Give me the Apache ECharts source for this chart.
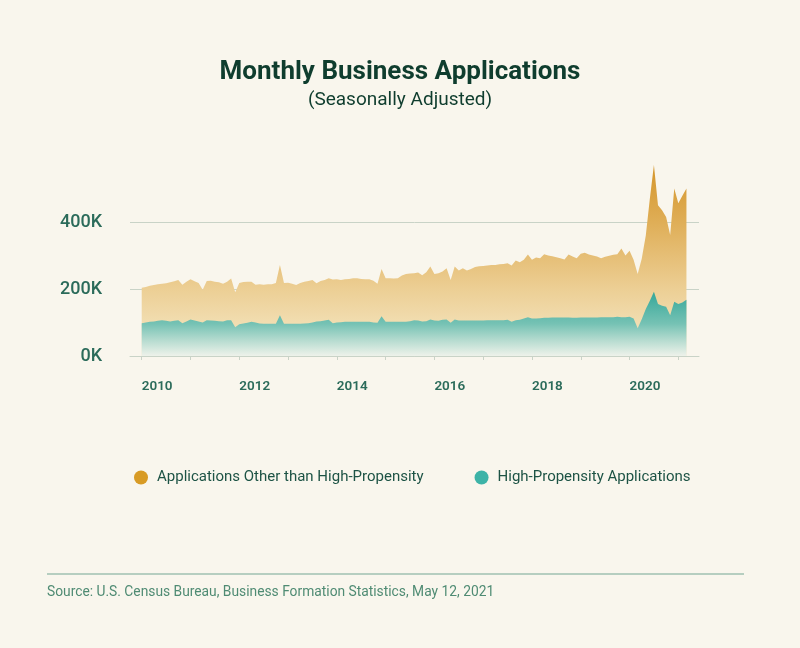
<!DOCTYPE html>
<html>
<head>
<meta charset="utf-8">
<script src="https://cdn.jsdelivr.net/npm/echarts@6/dist/echarts.min.js"></script>
<style>
  html, body { margin: 0; padding: 0; background: #f9f6ed; }
  #chart { width: 800px; height: 648px; }
</style>
</head>
<body>
<div id="chart"></div>
<script>
// Monthly series, January 2010 through March 2021 (thousands of applications)
const startYear = 2010;
const totalApplications = [
  204, 206, 210, 212, 214, 216, 217, 220, 223, 227, 213, 222,
  229, 223, 218, 198, 224, 225, 222, 220, 216, 222, 231, 190,
  218, 221, 222, 222, 213, 214, 213, 214, 214, 218, 272, 218,
  219, 216, 212, 218, 222, 224, 227, 217, 224, 227, 232, 228,
  229, 227, 229, 230, 232, 232, 230, 229, 229, 225, 216, 260,
  232, 232, 231, 232, 240, 245, 246, 247, 249, 241, 250, 267,
  245, 247, 252, 262, 227, 267, 255, 262, 255, 260, 266, 268,
  269, 270, 272, 272, 274, 275, 277, 270, 285, 280, 287, 303,
  287, 294, 292, 304, 300, 298, 295, 292, 288, 303, 297, 292,
  305, 308, 303, 300, 297, 292, 296, 299, 302, 304, 321, 300,
  314, 287, 245, 290, 360, 470, 570, 450, 435, 415, 361, 500,
  456, 478, 500
];
const highPropensity = [
  98, 100, 102, 103, 105, 107, 105, 103, 105, 107, 98, 103,
  109, 106, 103, 100, 107, 106, 105, 104, 103, 107, 107, 86,
  95, 97, 99, 102, 100, 97, 96, 96, 96, 96, 122, 96,
  96, 96, 96, 96, 97, 98, 100, 103, 104, 106, 108, 98,
  100, 101, 102, 102, 102, 102, 102, 102, 102, 100, 99, 119,
  102, 102, 102, 102, 102, 102, 104, 107, 106, 103, 104, 109,
  106, 105, 108, 109, 99, 109, 106, 106, 106, 106, 106, 106,
  106, 107, 107, 107, 107, 107, 108, 102, 107, 108, 112, 116,
  112, 112, 113, 114, 114, 115, 115, 115, 115, 115, 114, 114,
  115, 115, 115, 115, 115, 116, 116, 116, 116, 117, 116, 116,
  117, 112, 83, 110, 140, 165, 192, 155, 150, 147, 122, 162,
  155, 160, 168
];
const seriesNames = ['Applications Other than High-Propensity', 'High-Propensity Applications'];
const yearTicks = [2010, 2011, 2012, 2013, 2014, 2015, 2016, 2017, 2018, 2019, 2020, 2021];
const yearLabels = [2010, 2012, 2014, 2016, 2018, 2020];
const valueTicks = [0, 200, 400];

const toPoints = arr => arr.map((v, i) => [startYear + i / 12, v]);

const green = '#2b6b5a';
const gridColor = '#c9d3c7';

const chart = echarts.init(document.getElementById('chart'), null, { renderer: 'canvas' });
chart.setOption({
  backgroundColor: '#f9f6ed',
  animation: false,
  title: [
    {
      text: 'Monthly Business Applications',
      left: 'center', top: 59, padding: 0,
      textStyle: { fontFamily: 'Roboto', fontSize: 26, fontWeight: 'bold', color: '#0f3d2e' }
    },
    {
      text: '(Seasonally Adjusted)',
      left: 'center', top: 91, padding: 0,
      textStyle: { fontFamily: 'Roboto', fontSize: 19, fontWeight: 'normal', color: '#0f3d2e' }
    }
  ],
  legend: {
    data: seriesNames,
    left: 134, top: 470,
    icon: 'circle', itemWidth: 14, itemHeight: 14, itemGap: 51,
    padding: 0,
    textStyle: { fontFamily: 'Roboto', fontSize: 15, color: '#1d5345', padding: [0, 0, 0, 4] }
  },
  grid: { left: 130, right: 101, top: 155, bottom: 292, containLabel: false },
  xAxis: {
    type: 'value',
    min: 2009.76, max: 2021.424,
    axisLine: { show: true, lineStyle: { color: gridColor, width: 1 } },
    axisTick: { show: true, customValues: yearTicks, length: 4, lineStyle: { color: gridColor } },
    axisLabel: {
      customValues: yearLabels, align: 'left', margin: 24,
      fontFamily: 'Roboto', fontSize: 13.5, fontWeight: 600, color: green,
      formatter: v => String(Math.round(v))
    },
    splitLine: { show: false }
  },
  yAxis: {
    type: 'value', min: 0, max: 600, interval: 200,
    axisLine: { show: false }, axisTick: { show: false },
    axisLabel: {
      margin: 28, showMaxLabel: false,
      fontFamily: 'Roboto', fontSize: 18, fontWeight: 500, color: green,
      formatter: v => (valueTicks.includes(v) ? v + 'K' : '')
    },
    splitLine: { show: true, showMaxLine: false, lineStyle: { color: gridColor, width: 1 } }
  },
  series: [
    {
      name: seriesNames[0], type: 'line', data: toPoints(totalApplications),
      symbol: 'none', lineStyle: { width: 0 }, z: 2,
      itemStyle: { color: '#d89b25' },
      areaStyle: {
        opacity: 1,
        color: new echarts.graphic.LinearGradient(0, 0, 0, 1, [
          { offset: 0, color: '#d4952a' },
          { offset: 0.3, color: '#dfae57' },
          { offset: 0.64, color: '#ecce93' },
          { offset: 0.85, color: '#f2dfb4' },
          { offset: 1, color: '#f6ebd0' }
        ])
      }
    },
    {
      name: seriesNames[1], type: 'line', data: toPoints(highPropensity),
      symbol: 'none', lineStyle: { width: 0 }, z: 3,
      itemStyle: { color: '#3db3a7' },
      areaStyle: {
        opacity: 1,
        color: new echarts.graphic.LinearGradient(0, 0, 0, 1, [
          { offset: 0, color: '#34a799' },
          { offset: 0.5, color: '#76c2b4' },
          { offset: 0.75, color: '#b4dbcf' },
          { offset: 1, color: '#eef2ea' }
        ])
      }
    }
  ],
  graphic: [
    {
      type: 'line', silent: true,
      shape: { x1: 47, y1: 574, x2: 744, y2: 574 },
      style: { stroke: '#9fc1b0', lineWidth: 1.5 }
    },
    {
      type: 'text', left: 47, top: 586, silent: true,
      style: {
        text: 'Source: U.S. Census Bureau, Business Formation Statistics, May 12, 2021',
        font: '13.8px Roboto', fill: '#4f8b73'
      }
    }
  ]
});
</script>
</body>
</html>
